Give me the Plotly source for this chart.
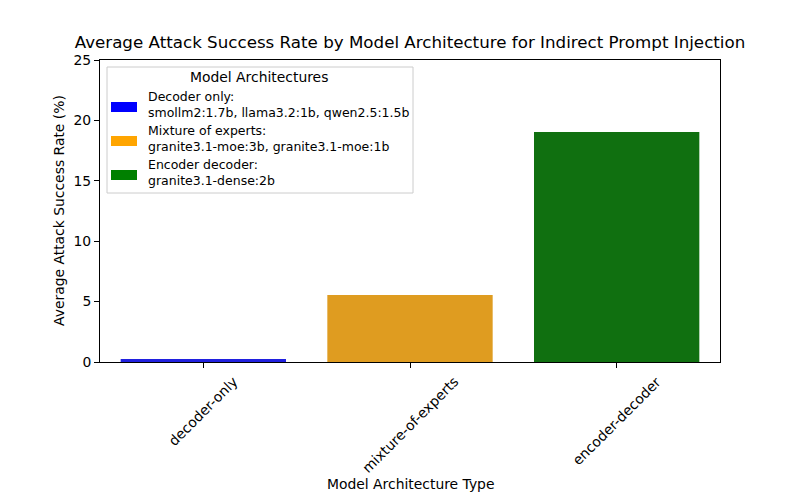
import plotly.graph_objects as go

categories = ["decoder-only", "mixture-of-experts", "encoder-decoder"]
values = [0.25, 5.55, 19.05]
bar_colors = ["#2020df", "#df9c20", "#107010"]
legend_colors = ["#0000ff", "#ffa500", "#008000"]
legend_labels = [
    "Decoder only:<br>smollm2:1.7b, llama3.2:1b, qwen2.5:1.5b",
    "Mixture of experts:<br>granite3.1-moe:3b, granite3.1-moe:1b",
    "Encoder decoder:<br>granite3.1-dense:2b",
]
legend_title = "Model Architectures"
title = "Average Attack Success Rate by Model Architecture for Indirect Prompt Injection"
x_title = "Model Architecture Type"
y_title = "Average Attack Success Rate (%)"
y_ticks = [0, 5, 10, 15, 20, 25]

OFF = 8  # page body margin
W, H = 800 - OFF, 500 - OFF
L, R, T, B = 100 - OFF, 720 - OFF, 60 - OFF, 362 - OFF
FONT = "DejaVu Sans, sans-serif"


def px(x):
    return (x - OFF - L) / (R - L)


def py(y):
    return (B - (y - OFF)) / (B - T)


fig = go.Figure()
fig.add_trace(go.Bar(
    x=categories, y=values, width=0.8,
    marker=dict(color=bar_colors, line=dict(width=0)),
    showlegend=False, hoverinfo="x+y",
))

annotations = []
shapes = []
for c in categories:
    annotations.append(dict(
        x=c, y=0, xref="x", yref="y", text=c, showarrow=False,
        textangle=-45, xanchor="center", yanchor="top", yshift=-9,
        font=dict(family=FONT, size=13.9, color="black"),
    ))
annotations.append(dict(
    x=px(410), y=py(484), xref="paper", yref="paper", text=x_title,
    showarrow=False, xanchor="center", yanchor="middle",
    font=dict(family=FONT, size=13.9, color="black"),
))
annotations.append(dict(
    x=px(59), y=py(211), xref="paper", yref="paper", text=y_title,
    showarrow=False, xanchor="center", yanchor="middle", textangle=-90,
    font=dict(family=FONT, size=13.9, color="black"),
))

shapes.append(dict(
    type="rect", xref="paper", yref="paper",
    x0=px(107), x1=px(413), y0=py(193), y1=py(67),
    line=dict(color="#cccccc", width=1), fillcolor="rgba(255,255,255,0.8)",
    layer="above",
))
annotations.append(dict(
    x=px(259), y=py(77), xref="paper", yref="paper", text=legend_title,
    showarrow=False, xanchor="center", yanchor="middle",
    font=dict(family=FONT, size=13.9, color="black"),
))
patch_y = [107, 141, 175]
for i, lab in enumerate(legend_labels):
    cy = patch_y[i]
    shapes.append(dict(
        type="rect", xref="paper", yref="paper",
        x0=px(111), x1=px(137), y0=py(cy + 5), y1=py(cy - 5),
        line=dict(width=0), fillcolor=legend_colors[i], layer="above",
    ))
    annotations.append(dict(
        x=px(146), y=py(cy - 3), xref="paper", yref="paper", text=lab,
        showarrow=False, xanchor="left", yanchor="middle", align="left",
        font=dict(family=FONT, size=12.5, color="black"),
    ))

fig.update_layout(
    width=W, height=H,
    margin=dict(l=L, r=W - R, t=T, b=H - B, pad=0),
    paper_bgcolor="white", plot_bgcolor="white",
    font=dict(family=FONT, size=13.9, color="black"),
    title=dict(text=title, x=px(410), xref="paper", xanchor="center",
               y=1 - (42 - OFF) / H, yref="container", yanchor="middle",
               font=dict(family=FONT, size=16.7, color="black")),
    xaxis=dict(range=[-0.5, 2.5], showline=True, linecolor="black", linewidth=1,
               mirror=True, ticks="outside", ticklen=5, tickcolor="black",
               showticklabels=False, showgrid=False, zeroline=False, fixedrange=True),
    yaxis=dict(range=[0, 25], tickvals=y_ticks, showline=True, linecolor="black",
               linewidth=1, mirror=True, ticks="outside", ticklen=5, tickcolor="black",
               showgrid=False, zeroline=False, tickfont=dict(family=FONT, size=13.9)),
    annotations=annotations, shapes=shapes, bargap=0.2,
)

fig.write_html("out.html")
